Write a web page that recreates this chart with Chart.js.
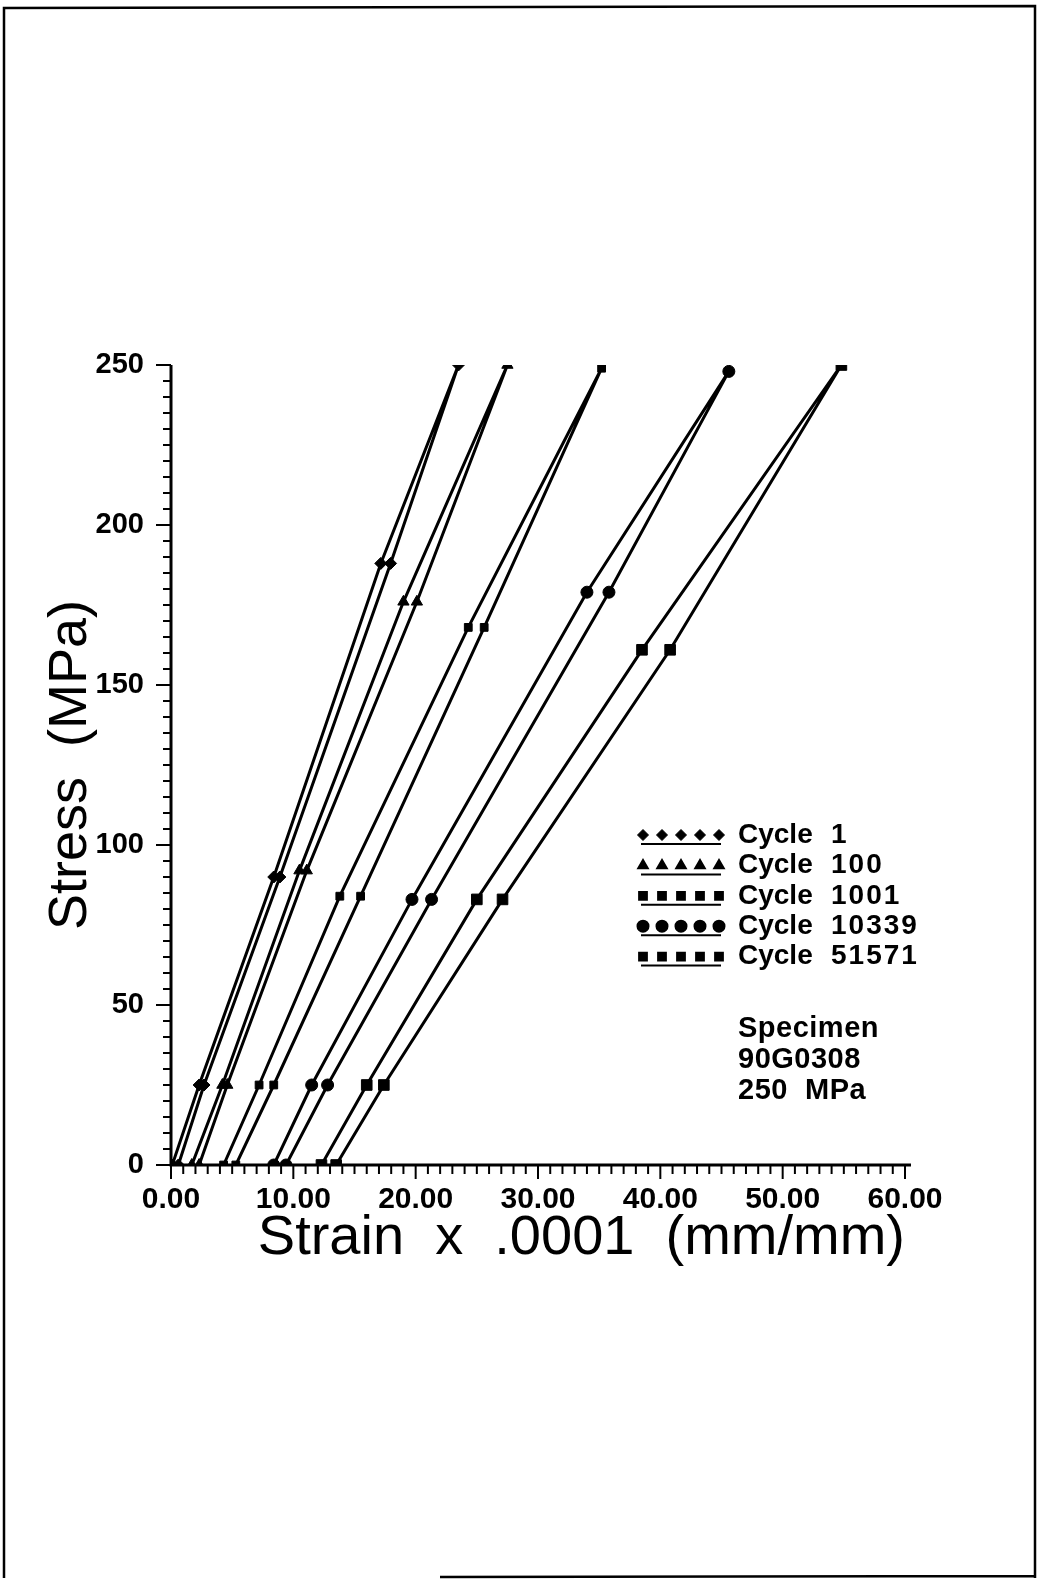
<!DOCTYPE html>
<html>
<head>
<meta charset="utf-8">
<title>Stress vs Strain</title>
<script src="https://cdn.jsdelivr.net/npm/chart.js@4.4.1/dist/chart.umd.min.js"></script>
<style>
  html, body { margin: 0; padding: 0; background: #fff; }
  #wrap { position: relative; width: 1038px; height: 1580px; }
</style>
</head>
<body>
<div id="wrap"><canvas id="myChart" width="1038" height="1580"></canvas></div>
<script>
    // strain is in units of .0001 mm/mm, stress in MPa
    // each loop runs up the left branch to the peak, then back down the right branch
    const cycleNames = ['1', '100', '1001', '10339', '51571'];

    const strainCycle1 = [0.1, 2.3, 8.4, 17.15, 23.5, 17.95, 8.9, 2.7, 0.6];
    const stressCycle1 = [0, 25, 90, 188, 250, 188, 90, 25, 0];

    const strainCycle100 = [1.7, 4.2, 10.5, 19.0, 27.5, 20.1, 11.1, 4.6, 2.3];
    const stressCycle100 = [0, 25, 92, 176, 250, 176, 92, 25, 0];

    const strainCycle1001 = [4.3, 7.2, 13.8, 24.3, 35.2, 25.6, 15.5, 8.4, 5.3];
    const stressCycle1001 = [0, 25, 84, 168, 249, 168, 84, 25, 0];

    const strainCycle10339 = [8.4, 11.5, 19.7, 34.0, 45.6, 35.8, 21.3, 12.8, 9.4];
    const stressCycle10339 = [0, 25, 83, 179, 248, 179, 83, 25, 0];

    const strainCycle51571 = [12.3, 16.0, 25.0, 38.5, 54.8, 40.8, 27.1, 17.4, 13.5];
    const stressCycle51571 = [0, 25, 83, 161, 250, 161, 83, 25, 0];

    const strainTicks = [0, 10, 20, 30, 40, 50, 60];
    const stressTicks = [0, 50, 100, 150, 200, 250];
    const specimenLines = ['Specimen', '90G0308', '250  MPa'];

    const series = [
        { strain: strainCycle1, stress: stressCycle1, style: 'rectRot', r: 6 },
        { strain: strainCycle100, stress: stressCycle100, style: 'triangle', r: 6.5 },
        { strain: strainCycle1001, stress: stressCycle1001, style: 'rect', r: 5.5 },
        { strain: strainCycle10339, stress: stressCycle10339, style: 'circle', r: 6 },
        { strain: strainCycle51571, stress: stressCycle51571, style: 'rect', r: 7.5 }
    ];

    // white page with the scanned sheet's frame
    const pageFrame = {
        id: 'pageFrame',
        beforeDraw(chart) {
            const ctx = chart.ctx;
            ctx.save();
            ctx.fillStyle = '#fff';
            ctx.fillRect(0, 0, chart.width, chart.height);
            ctx.strokeStyle = '#000';
            ctx.lineWidth = 2.5;
            ctx.beginPath();
            ctx.moveTo(4, 1578);
            ctx.lineTo(4, 8);
            ctx.lineTo(1035, 6);
            ctx.lineTo(1035, 1578);
            ctx.moveTo(440, 1577);
            ctx.lineTo(1036, 1576);
            ctx.stroke();
            ctx.restore();
        }
    };

    // axis lines with minor / major tick marks pointing outward
    const axisTicks = {
        id: 'axisTicks',
        afterDraw(chart) {
            const { ctx, chartArea: a, scales: { x, y } } = chart;
            ctx.save();
            ctx.strokeStyle = '#000';
            ctx.lineWidth = 3;
            ctx.beginPath();
            ctx.moveTo(a.left, a.top);
            ctx.lineTo(a.left, a.bottom);
            ctx.lineTo(a.right + 6, a.bottom);
            ctx.stroke();

            ctx.lineWidth = 2;
            for (let v = 0; v <= 250; v += 5) {
                const py = y.getPixelForValue(v);
                const len = v % 50 === 0 ? 15 : 8;
                ctx.beginPath();
                ctx.moveTo(a.left - len, py);
                ctx.lineTo(a.left, py);
                ctx.stroke();
            }
            for (let v = 0; v <= 60.5; v += 1) {
                const px = x.getPixelForValue(v);
                const len = v % 10 === 0 ? 14 : 9;
                ctx.beginPath();
                ctx.moveTo(px, a.bottom);
                ctx.lineTo(px, a.bottom + len);
                ctx.stroke();
            }
            ctx.restore();
        }
    };

    // legend block and specimen note inside the plot, drawn like the plotter did
    const plotterLegend = {
        id: 'plotterLegend',
        afterDraw(chart) {
            const ctx = chart.ctx;
            ctx.save();
            ctx.fillStyle = '#000';
            ctx.strokeStyle = '#000';
            ctx.textBaseline = 'middle';
            ctx.textAlign = 'left';

            series.forEach((s, i) => {
                const rowY = 835 + i * 30.4;
                for (let k = 0; k < 5; k++) {
                    Chart.helpers.drawPoint(ctx, {
                        pointStyle: s.style,
                        radius: Math.min(s.r, 5.5),
                        rotation: 0,
                        borderWidth: 1
                    }, 643 + k * 19, rowY);
                }
                ctx.lineWidth = 2;
                ctx.beginPath();
                ctx.moveTo(641, rowY + 9);
                ctx.lineTo(721, rowY + 9);
                ctx.stroke();
                ctx.font = 'bold 28px "Liberation Sans"';
                ctx.letterSpacing = '0px';
                ctx.fillText('Cycle', 738, rowY);
                ctx.letterSpacing = '2px';
                ctx.fillText(cycleNames[i], 831, rowY);
            });

            ctx.font = 'bold 29px "Liberation Sans"';
            ctx.letterSpacing = '0.5px';
            specimenLines.forEach((line, i) => {
                ctx.fillText(line, 738, 1029 + i * 31);
            });
            ctx.restore();
        }
    };

    const ctx = document.getElementById('myChart').getContext('2d');
    const chart = new Chart(ctx, {
        type: 'scatter',
        data: {
            datasets: series.map((s, i) => ({
                label: 'Cycle ' + cycleNames[i],
                data: s.strain.map((v, j) => ({ x: v, y: s.stress[j] })),
                showLine: true,
                borderColor: '#000',
                borderWidth: 3,
                backgroundColor: '#000',
                pointStyle: s.style,
                pointRadius: s.r,
                pointBorderWidth: 1,
                pointBackgroundColor: '#000',
                pointBorderColor: '#000',
                tension: 0
            }))
        },
        options: {
            responsive: false,
            animation: false,
            devicePixelRatio: 1,
            layout: { padding: { top: 365, right: 133, bottom: 300, left: 0 } },
            plugins: {
                legend: { display: false },
                tooltip: { enabled: false }
            },
            scales: {
                x: {
                    type: 'linear',
                    min: 0,
                    max: 60,
                    afterFit(scale) {
                        scale.height = 115;
                        scale.paddingLeft = 0;
                        scale.paddingRight = 0;
                    },
                    afterBuildTicks(scale) {
                        scale.ticks = strainTicks.map(v => ({ value: v }));
                    },
                    grid: { display: false, drawTicks: false },
                    border: { display: false },
                    ticks: {
                        color: '#000',
                        font: { family: 'Liberation Sans', size: 30, weight: 'bold' },
                        padding: 17,
                        maxRotation: 0,
                        autoSkip: false,
                        callback: v => Number(v).toFixed(2)
                    },
                    title: {
                        display: true,
                        text: 'Strain  x  .0001  (mm/mm)',
                        align: 'end',
                        color: '#000',
                        font: { family: 'Liberation Sans', size: 56, lineHeight: 1 },
                        padding: { top: 0, bottom: 13 }
                    }
                },
                y: {
                    type: 'linear',
                    min: 0,
                    max: 250,
                    afterFit(scale) {
                        scale.width = 171;
                        scale.paddingTop = 0;
                        scale.paddingBottom = 0;
                    },
                    afterBuildTicks(scale) {
                        scale.ticks = stressTicks.map(v => ({ value: v }));
                    },
                    grid: { display: false, drawTicks: false },
                    border: { display: false },
                    ticks: {
                        color: '#000',
                        font: { family: 'Liberation Sans', size: 29, weight: 'bold' },
                        padding: 27,
                        autoSkip: false
                    },
                    title: {
                        display: true,
                        text: 'Stress  (MPa)',
                        color: '#000',
                        font: { family: 'Liberation Sans', size: 54, lineHeight: 1 },
                        padding: { top: 44, bottom: 0 }
                    }
                }
            }
        },
        plugins: [pageFrame, axisTicks, plotterLegend]
    });
</script>
</body>
</html>
